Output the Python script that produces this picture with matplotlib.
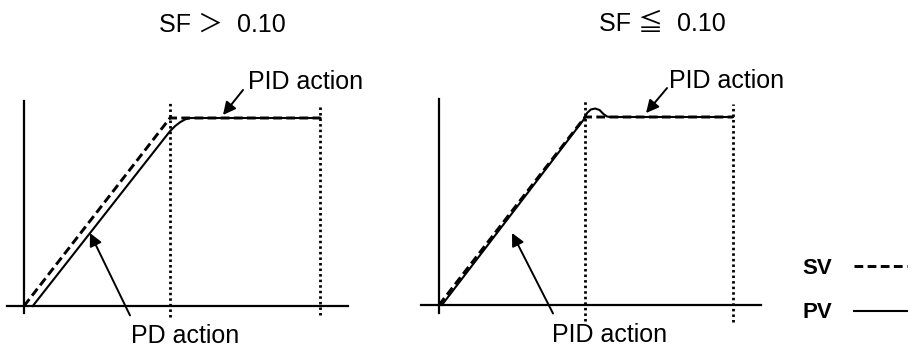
import matplotlib
matplotlib.use("Agg")
import matplotlib.pyplot as plt

plt.rcParams['font.family'] = ['Liberation Sans', 'Noto Sans CJK JP', 'DejaVu Sans']

# ---------------- data (time normalised to ramp end = 1, value to setpoint = 1)
titles = ["SF ＞  0.10", "SF ≦  0.10"]

# left panel: SF > 0.10
sv_t_left = [0.0, 1.0, 2.03]
sv_v_left = [0.0, 1.0, 1.0]
pv_t_left = [0.06, 1.0, 1.035, 1.07, 1.105, 1.14, 2.03]
pv_v_left = [0.0, 0.93, 0.957, 0.978, 0.993, 1.0, 1.0]
marks_left = [1.0, 2.03]

# right panel: SF <= 0.10
sv_t_right = [0.0, 1.0, 2.014]
sv_v_right = [0.0, 1.0, 1.0]
pv_t_right = [0.02, 0.99, 1.015, 1.04, 1.07, 1.1, 1.125, 1.15, 1.17, 2.014]
pv_v_right = [0.0, 0.985, 1.022, 1.04, 1.045, 1.037, 1.017, 1.003, 1.0, 1.0]
marks_right = [1.0, 2.014]

labels_top = ["PID action", "PID action"]
labels_bottom = ["PD action", "PID action"]

# ---------------- figure
W, H = 913, 353
fig = plt.figure(figsize=(W / 100, H / 100), dpi=100)
PXX, PXY = 146.0, 188.0  # pixels per data unit


def make_axes(px_left, px_right, ox, oy):
    ax = fig.add_axes([px_left / W, 0, (px_right - px_left) / W, 1])
    ax.set_xlim((px_left - ox) / PXX, (px_right - ox) / PXX)
    ax.set_ylim((oy - H) / PXY, oy / PXY)
    ax.patch.set_visible(False)
    for s in ['top', 'right']:
        ax.spines[s].set_visible(False)
    ax.spines['left'].set_position(('data', 0))
    ax.spines['bottom'].set_position(('data', 0))
    for s in ['left', 'bottom']:
        ax.spines[s].set_linewidth(1.6)
    ax.set_xticks([])
    ax.set_yticks([])
    return ax


axL = make_axes(0, 400, 24, 306)
axR = make_axes(400, 780, 439, 305)

axL.spines['bottom'].set_bounds(-0.116, 2.22)
axL.spines['left'].set_bounds(-0.037, 1.09)
axR.spines['bottom'].set_bounds(-0.123, 2.205)
axR.spines['left'].set_bounds(-0.043, 1.096)

FS = 18
sv_style = dict(color='black', lw=2.1, linestyle=(0, (3.0, 1.5)), solid_capstyle='butt')
pv_style = dict(color='black', lw=1.5)
dot_style = dict(color='black', lw=2.0, linestyle=(0, (0.9, 1.1)))
arrow = dict(arrowstyle='-|>', color='black', lw=1.4, mutation_scale=19,
             shrinkA=0, shrinkB=0)

panels = [
    (axL, sv_t_left, sv_v_left, pv_t_left, pv_v_left, marks_left,
     [(-0.058, 1.085), (-0.048, 1.064)]),
    (axR, sv_t_right, sv_v_right, pv_t_right, pv_v_right, marks_right,
     [(-0.085, 1.095), (-0.09, 1.07)]),
]

handles = None
for ax, st, sv, pt, pv, marks, spans in panels:
    (hsv,) = ax.plot(st, sv, **sv_style)
    (hpv,) = ax.plot(pt, pv, **pv_style)
    for m, (lo, hi) in zip(marks, spans):
        ax.plot([m, m], [lo, hi], **dot_style)
    if handles is None:
        handles = [hsv, hpv]

# titles
axL.text(1.356, 1.495, titles[0], ha='center', va='center', fontsize=FS)
axR.text(1.53, 1.495, titles[1], ha='center', va='center', fontsize=FS)

# annotations, left panel
axL.annotate('', xy=(1.363, 1.016), xytext=(1.50, 1.149), arrowprops=arrow)
axL.text(1.534, 1.19, labels_top[0], ha='left', va='center', fontsize=FS)
axL.annotate('', xy=(0.452, 0.388), xytext=(0.726, -0.05), arrowprops=arrow)
axL.text(1.103, -0.157, labels_bottom[0], ha='center', va='center', fontsize=FS)

# annotations, right panel
axR.annotate('', xy=(1.418, 1.021), xytext=(1.562, 1.154), arrowprops=arrow)
axR.text(1.575, 1.19, labels_top[1], ha='left', va='center', fontsize=FS)
axR.annotate('', xy=(0.50, 0.383), xytext=(0.781, -0.045), arrowprops=arrow)
axR.text(1.171, -0.16, labels_bottom[1], ha='center', va='center', fontsize=FS)

# legend
fig.legend(handles, ['SV', 'PV'], loc='upper left', markerfirst=False,
           bbox_to_anchor=(802 / W, (H - 258) / H), borderaxespad=0, borderpad=0,
           frameon=False, handlelength=2.4, handletextpad=1.0, labelspacing=1.05,
           prop=dict(weight='bold', size=16))

fig.savefig('out.png', dpi=100)
